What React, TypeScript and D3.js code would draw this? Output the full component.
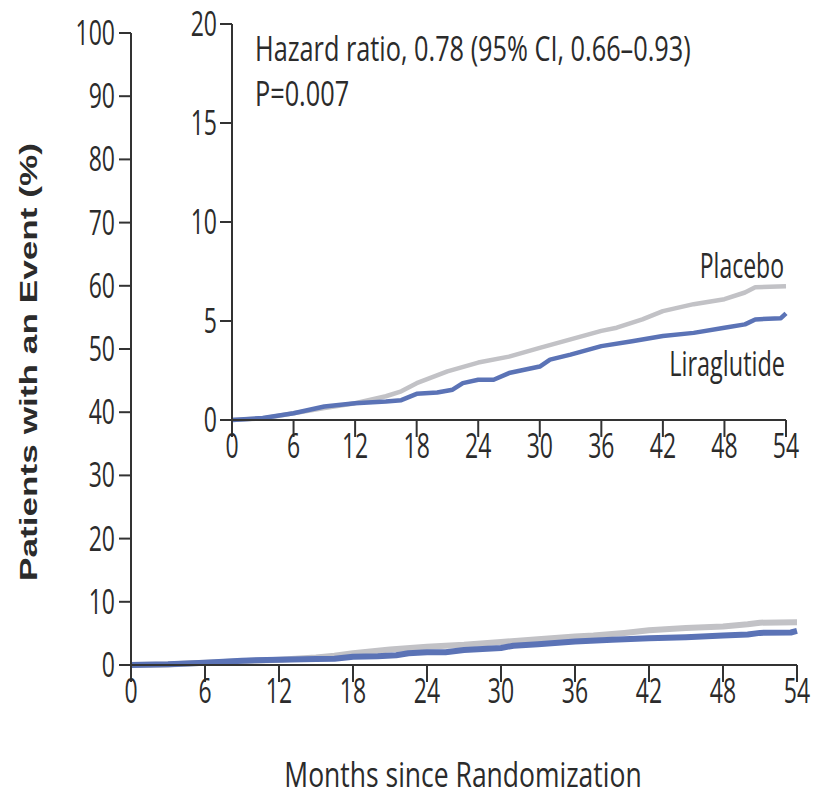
import React from 'react';
import * as d3 from 'd3';

// ---- Data ----
const placeboMonths = [0, 3, 6, 9, 12, 15, 16.5, 18, 21, 24, 27, 30, 33, 36, 37.5, 40, 42, 45, 48, 50, 51, 54];
const placeboPct = [0, 0.08, 0.34, 0.6, 0.85, 1.2, 1.45, 1.86, 2.46, 2.9, 3.2, 3.64, 4.07, 4.5, 4.66, 5.08, 5.5, 5.85, 6.1, 6.44, 6.7, 6.75];
const liraMonths = [0, 3, 6, 9, 12, 15, 16.5, 18, 20, 21.5, 22.5, 24, 25.5, 27, 30, 31, 33, 36, 39, 42, 45, 48, 50, 51, 53.5, 54];
const liraPct = [0, 0.1, 0.34, 0.68, 0.85, 0.93, 1.0, 1.32, 1.39, 1.53, 1.86, 2.03, 2.03, 2.37, 2.7, 3.05, 3.3, 3.73, 3.98, 4.24, 4.4, 4.66, 4.83, 5.08, 5.14, 5.39];

const xTicks = [0, 6, 12, 18, 24, 30, 36, 42, 48, 54];
const mainYTicks = [0, 10, 20, 30, 40, 50, 60, 70, 80, 90, 100];
const insetYTicks = [0, 5, 10, 15, 20];

const seriesNames = ['Placebo', 'Liraglutide'];
const yTitle = 'Patients with an Event (%)';
const xTitle = 'Months since Randomization';
const hrText = 'Hazard ratio, 0.78 (95% CI, 0.66\u20130.93)';
const pText = 'P=0.007';

const AX = '#333333';
const GRAY = '#c2c2c6';
const BLUE = '#5b73b6';
const FONT = '"Open Sans", "Liberation Sans", sans-serif';

type TxtProps = { x: number; y: number; anchor?: string; size?: number; sy?: number; children: React.ReactNode; fill?: string };
const Txt = ({ x, y, anchor = 'start', size = 23, sy = 1.5, children, fill = '#2b2b2b' }: TxtProps) => (
  <text
    transform={`translate(${x},${y}) scale(1,${sy})`}
    textAnchor={anchor}
    fontFamily={FONT}
    fontSize={size}
    fill={fill}
  >
    {children}
  </text>
);

const placeboData = placeboMonths.map((m, i) => [m, placeboPct[i]] as [number, number]);
const liraData = liraMonths.map((m, i) => [m, liraPct[i]] as [number, number]);

function Panel({ x, y, yTicks, lw, labelRight }: { x: d3.ScaleLinear<number, number>; y: d3.ScaleLinear<number, number>; yTicks: number[]; lw: number; labelRight: number }) {
  const line = d3.line<[number, number]>().x(d => x(d[0])).y(d => y(d[1])).curve(d3.curveLinear);
  const [x0, x1] = x.range();
  const [y0, y1] = y.range();
  return (
    <g>
      <path d={line(placeboData) || ''} fill="none" stroke={GRAY} strokeWidth={lw} strokeLinejoin="round" />
      <path d={line(liraData) || ''} fill="none" stroke={BLUE} strokeWidth={lw} strokeLinejoin="round" />
      {/* axes */}
      <line x1={x0} x2={x0} y1={y0} y2={y1} stroke={AX} strokeWidth={2} />
      <line x1={x0} x2={x1} y1={y0} y2={y0} stroke={AX} strokeWidth={2} />
      {yTicks.map(t => (
        <g key={'y' + t}>
          <line x1={x0 - 12} x2={x0} y1={y(t)} y2={y(t)} stroke={AX} strokeWidth={2} />
          <Txt x={labelRight} y={y(t) + 12} anchor="end">{t}</Txt>
        </g>
      ))}
      {xTicks.map(t => (
        <g key={'x' + t}>
          <line x1={x(t)} x2={x(t)} y1={y0} y2={y0 + 17} stroke={AX} strokeWidth={2} />
          <Txt x={x(t)} y={y0 + 38} anchor="middle">{t}</Txt>
        </g>
      ))}
    </g>
  );
}

export default function App() {
  const mainX = d3.scaleLinear().domain([0, 54]).range([131, 797]);
  const mainY = d3.scaleLinear().domain([0, 100]).range([665, 33]);
  const inX = d3.scaleLinear().domain([0, 54]).range([232, 786]);
  const inY = d3.scaleLinear().domain([0, 20]).range([420, 24]);

  return (
    <svg width={827} height={799} style={{ position: 'absolute', left: 0, top: 0, background: '#fff' }}>
      <rect width={827} height={799} fill="#fff" />
      <Panel x={mainX} y={mainY} yTicks={mainYTicks} lw={6} labelRight={115} />
      <Panel x={inX} y={inY} yTicks={insetYTicks} lw={4.5} labelRight={217} />
      <Txt x={784} y={278} anchor="end">{seriesNames[0]}</Txt>
      <Txt x={785} y={376} anchor="end" size={23.5}>{seriesNames[1]}</Txt>
      <Txt x={255} y={61} size={25.3} sy={1.38}>{hrText}</Txt>
      <Txt x={255} y={106} size={25.3} sy={1.38}>{pText}</Txt>
      <Txt x={463} y={787} anchor="middle" size={26.5} sy={1.32}>{xTitle}</Txt>
      <text
        transform="translate(37,362) rotate(-90)"
        textAnchor="middle"
        fontFamily='"Liberation Sans", Arial, sans-serif'
        fontWeight="bold"
        fontSize={23}
        fill="#2b2b2b"
        textLength={438}
        lengthAdjust="spacingAndGlyphs"
      >
        {yTitle}
      </text>
    </svg>
  );
}
